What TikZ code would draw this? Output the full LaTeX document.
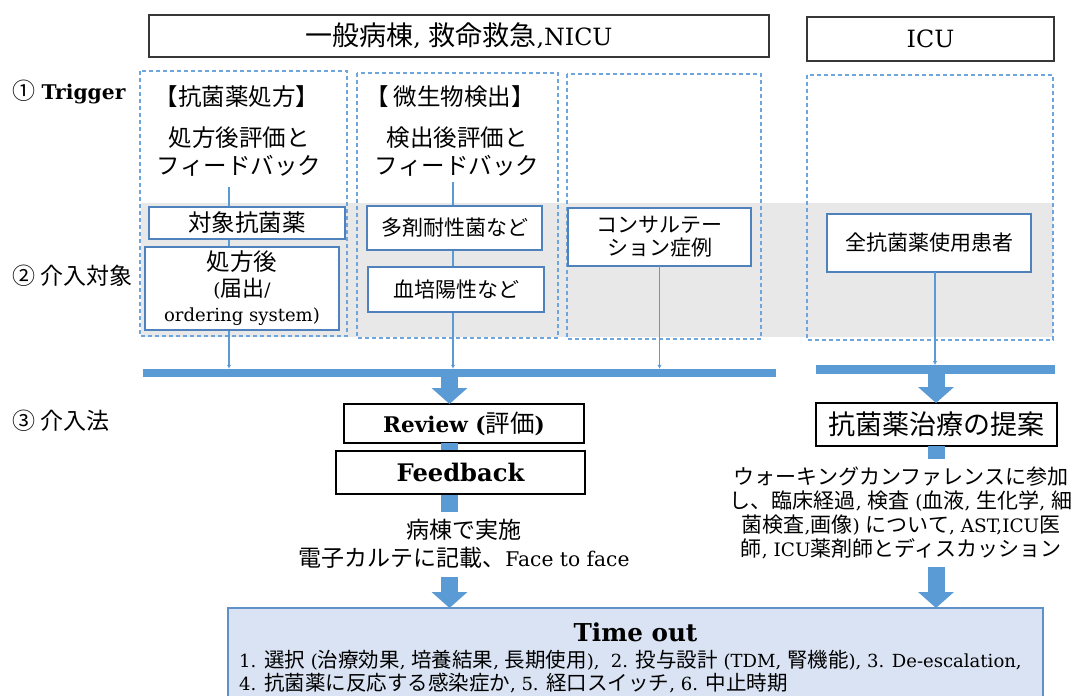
\documentclass[tikz,border=0pt]{standalone}
\usepackage{fontspec}
\setmainfont{DejaVu Serif}[Scale=0.88]
\newfontfamily\jp{Noto Sans CJK JP}
\usetikzlibrary{arrows.meta}
\definecolor{dashblue}{RGB}{110,165,220}
\definecolor{boxblue}{RGB}{79,129,189}
\definecolor{barblue}{RGB}{91,155,213}
\definecolor{bandgray}{RGB}{232,232,232}
\definecolor{tofill}{RGB}{218,227,243}
\definecolor{toborder}{RGB}{95,145,200}
\definecolor{topgray}{RGB}{55,55,55}
\newcommand\J[1]{{\jp #1}}
\newcommand\fs[2]{\fontsize{#1}{#2}\selectfont}
\tikzset{
  dashbox/.style={draw=dashblue, line width=1.3pt, dash pattern=on 4pt off 3pt},
  topbox/.style={draw=topgray, line width=1.5pt, fill=white, inner sep=0pt, outer sep=0pt, font=\fs{27}{30}},
  bluebox/.style={draw=boxblue, line width=1.5pt, fill=white, inner sep=0pt, outer sep=0pt, align=center, font=\jp\fs{21}{23}},
  blackbox/.style={draw=black, line width=2pt, fill=white, inner sep=0pt, outer sep=0pt},
  lab/.style={inner sep=0pt, font=\fs{23}{26}},
  trig/.style={inner sep=0pt, align=center, font=\jp\fs{23.5}{28}},
  conn/.style={draw=barblue, line width=1.3pt, -{Latex[length=4pt,width=4.5pt]}},
  barnode/.style={fill=barblue, inner sep=0pt, outer sep=0pt},
  bigarrow/.style={draw=barblue, line width=17pt, -{Triangle[width=35pt,length=16pt]}},
  plain/.style={fill=white, inner sep=0pt, align=center}
}
\begin{document}
\begin{tikzpicture}[x=1pt,y=-1pt]
\path[use as bounding box, clip] (0,0) rectangle (1072,696);
\fill[white] (0,0) rectangle (1072,696);

% grey band of row 2
\fill[bandgray] (141,203) rectangle (1053,337);

% dashed column frames
\draw[dashbox] (140,71) rectangle (347,336);
\draw[dashbox] (357,73) rectangle (558,338);
\draw[dashbox] (567,74) rectangle (761,339);
\draw[dashbox] (807,75) rectangle (1053,340);

% header boxes
\node[topbox, minimum width=620, minimum height=42] (ward) at (459,36) {\J{一般病棟}, \J{救命救急},NICU};
\node[topbox, minimum width=247, minimum height=44] (icu) at (930.5,39) {ICU};

% row labels
\node[lab, anchor=west] (l1) at (12,92) {\J{①} \textbf{Trigger}};
\node[lab, anchor=west] (l2) at (12,276) {\J{② 介入対象}};
\node[lab, anchor=west] (l3) at (12,421) {\J{③ 介入法}};

% trigger texts
\node[trig] (t1h) at (237,97) {【抗菌薬処方】};
\node[trig] (t1b) at (239,152) {処方後評価と\\フィードバック};
\node[trig] (t2h) at (450,97) {【 微生物検出】};
\node[trig] (t2b) at (457,152) {検出後評価と\\フィードバック};

% bars
\node[barnode, minimum width=633, minimum height=8.5] (bar1) at (459.5,373) {};
\node[barnode, minimum width=239, minimum height=9] (bar2) at (935.5,369.5) {};

% thin connectors
\coordinate (c1s) at (229,187);
\coordinate (c2s) at (453,182);
\coordinate (c4x) at (935,0);
\draw[conn] (c1s) -- (bar1.north -| c1s);
\draw[conn] (c2s) -- (bar1.north -| c2s);

% row 2 boxes
\node[bluebox, minimum width=196, minimum height=32, font=\jp\fs{23.5}{26}] (a1) at (247,223) {対象抗菌薬};
\node[bluebox, minimum width=194, minimum height=83, font=\fs{21}{25.5}] (a2) at (242,288.5)
  {{\jp\fs{23.5}{25.5}処方後}\\(\J{\fs{22}{25.5}届出}/\\{\fs{20.5}{25.5}ordering system)}};
\node[bluebox, minimum width=175, minimum height=44] (b1) at (454.5,228) {多剤耐性菌など};
\node[bluebox, minimum width=176, minimum height=45] (b2) at (456,289.5) {血培陽性など};
\node[bluebox, minimum width=183, minimum height=58] (c1) at (659.5,237) {コンサルテー\\ション症例};
\node[bluebox, minimum width=204, minimum height=58] (d1) at (929,243) {全抗菌薬使用患者};

\draw[conn] (c1.south) -- (bar1.north -| c1.south);
\draw[conn] (d1.south -| c4x) -- (bar2.north -| c4x);

% row 3
\node[blackbox, minimum width=240, minimum height=39, font=\bfseries\fs{24.5}{26}] (review) at (464,423.5) {Review (\J{\mdseries 評価})};
\node[blackbox, minimum width=241, minimum height=43, font=\jp\fs{27}{30}] (proposal) at (936.5,424.5) {抗菌薬治療の提案};
\node[draw=toborder, line width=1.3pt, fill=tofill, inner sep=0pt, outer sep=0pt, minimum width=815, minimum height=132] (timeout) at (635.5,674) {};

\coordinate (ax) at (449.5,0);
\coordinate (bx) at (936,0);
\draw[bigarrow] (bar1.south -| ax) -- (review.north -| ax);
\draw[bigarrow] (review.south -| ax) -- (timeout.north -| ax);
\draw[bigarrow] (bar2.south -| bx) -- (proposal.north -| bx);
\draw[bigarrow] (proposal.south -| bx) -- (timeout.north -| bx);

\node[blackbox, minimum width=249, minimum height=43, font=\bfseries\fs{27.5}{29}] (feedback) at (460.5,472.5) {Feedback};

\node[plain, minimum height=65, inner xsep=8pt, font=\fs{23}{28}] (wardtxt) at (464,544)
  {\J{病棟で実施}\\\J{電子カルテに記載、}Face to face};
\node[plain, minimum height=108, inner xsep=4pt, font=\fs{21}{24}] (icutxt) at (901,513)
  {\J{ウォーキングカンファレンスに参加}\\
   \J{し、臨床経過}, \J{検査} (\J{血液}, \J{生化学}, \J{細}\\
   \J{菌検査},\J{画像}) \J{について}, AST,ICU\J{医}\\
   \J{師}, ICU\J{薬剤師とディスカッション}};

% time out contents
\node[inner sep=0pt, font=\bfseries\fs{28}{30}] (totitle) at (635.5,632) {Time out};
\node[inner sep=0pt, anchor=west, align=left, font=\fs{20.5}{23}] (tolist) at (239,671.5)
  {1. \J{選択} (\J{治療効果}, \J{培養結果}, \J{長期使用}),\ \ 2. \J{投与設計} (TDM, \J{腎機能}), 3. De-escalation,\\
   4. \J{抗菌薬に反応する感染症か}, 5. \J{経口スイッチ}, 6. \J{中止時期}};
\end{tikzpicture}
\end{document}
